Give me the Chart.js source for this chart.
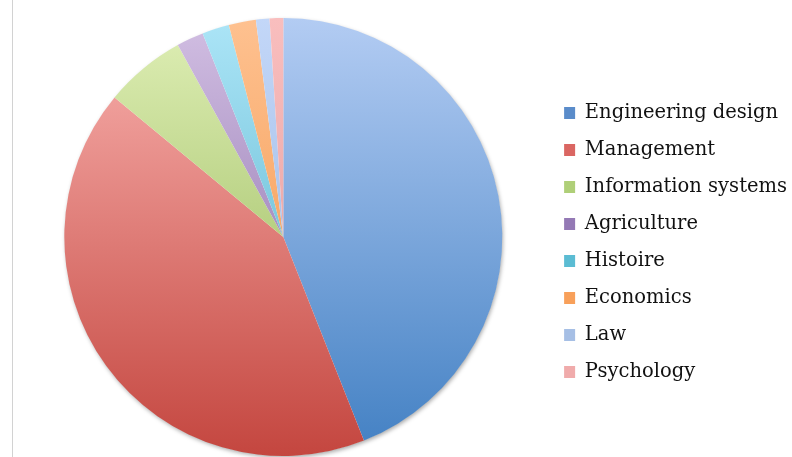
<!DOCTYPE html>
<html><head><meta charset="utf-8">
<script src="https://cdn.jsdelivr.net/npm/chart.js@4/dist/chart.umd.min.js"></script>
<style>html,body{margin:0;padding:0;background:#fff;overflow:hidden}
#wrap{position:relative;width:792px;height:457px}
</style></head><body><div id="wrap"><canvas id="c" width="792" height="457"></canvas></div>
<script>
const categories = ["Engineering design","Management","Information systems","Agriculture","Histoire","Economics","Law","Psychology"];
const values = [44,42,6,2,2,2,1,1];
const topColors = ["#B3CCF3","#F9B2AF","#DFEFB6","#D2BFE3","#ACE5F7","#FEC190","#C3D7F8","#F9BEBE"];
const bottomColors = ["#4280C3","#C4463F","#8DB04C","#7D5F9F","#47A8C3","#F28F3F","#8FAFDD","#E09696"];
const legendColors = ["#5A8CCA","#DA6662","#AFCF78","#9479B5","#5BBCD3","#F8A05A","#A6BFE5","#F0ABAB"];

function sliceColor(ctx){
  const i = ctx.dataIndex;
  const chart = ctx.chart;
  const a = chart.chartArea;
  if(!a) return legendColors[i];
  const g = chart.ctx.createLinearGradient(0, a.top, 0, a.bottom);
  g.addColorStop(0, topColors[i]);
  g.addColorStop(1, bottomColors[i]);
  return g;
}

const framePlugin = {
  id:'frame',
  beforeDraw(chart){
    const c = chart.ctx;
    c.save();
    c.strokeStyle = '#d2d2d2';
    c.lineWidth = 1;
    c.beginPath(); c.moveTo(12.5,0); c.lineTo(12.5,457); c.stroke();
    c.restore();
  },
  beforeDatasetsDraw(chart){
    const el = chart.getDatasetMeta(0).data[0];
    if(!el) return;
    const c = chart.ctx;
    c.save();
    c.shadowColor = 'rgba(0,0,0,0.35)';
    c.shadowBlur = 4;
    c.shadowOffsetX = 1;
    c.shadowOffsetY = 2;
    c.fillStyle = '#ffffff';
    c.beginPath(); c.arc(el.x, el.y, el.outerRadius-0.5, 0, Math.PI*2); c.fill();
    c.restore();
  }
};

new Chart(document.getElementById('c'), {
  type:'pie',
  data:{ labels:categories, datasets:[{ data:values, backgroundColor:sliceColor, borderWidth:0 }] },
  options:{
    responsive:false, animation:false, devicePixelRatio:1,
    layout:{ padding:{ left:20, top:18, right:-5, bottom:1 } },
    plugins:{
      tooltip:{enabled:false},
      legend:{
        position:'right',
        title:{ display:true, text:' ', padding:0, font:{ size:9, lineHeight:1.2 } },
        labels:{
          boxWidth:11, boxHeight:12, padding:17.5, color:'#111',
          font:{ family:'"DejaVu Serif"', size:19.5 },
          generateLabels(chart){
            const items = Chart.overrides.pie.plugins.legend.labels.generateLabels(chart);
            items.forEach((it,i)=>{ it.fillStyle=legendColors[i]; it.strokeStyle=legendColors[i]; it.lineWidth=0; });
            return items;
          }
        }
      }
    }
  },
  plugins:[framePlugin]
});
</script></body></html>
